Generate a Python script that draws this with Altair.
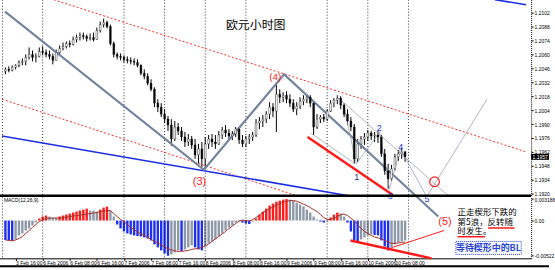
import altair as alt
import pandas as pd

# ---------------- data ----------------
bar_index = list(range(119))

opens = [1.2043,1.2045,1.2044,1.2047,1.2049,1.2052,1.2053,1.2057,1.2060,1.2057,
         1.2058,1.2063,1.2062,1.2060,1.2058,1.2054,1.2062,1.2066,1.2068,1.2071,
         1.2070,1.2075,1.2077,1.2079,1.2078,1.2076,1.2077,1.2075,1.2084,1.2090,
         1.2092,1.2088,1.2071,1.2060,1.2058,1.2057,1.2055,1.2054,1.2053,1.2052,
         1.2049,1.2041,1.2038,1.2031,1.2025,1.2011,1.2007,1.2000,1.1995,1.1989,
         1.1975,1.1987,1.1983,1.1977,1.1972,1.1975,1.1969,1.1959,1.1965,1.1955,
         1.1970,1.1975,1.1972,1.1970,1.1979,1.1984,1.1981,1.1978,1.1980,1.1985,
         1.1974,1.1970,1.1975,1.1977,1.1979,1.1991,1.1993,1.1995,1.2000,1.2007,
         1.2003,1.2020,1.2017,1.2019,1.2015,1.2011,1.2005,1.2008,1.2013,1.2015,
         1.2017,1.2011,1.1987,1.1995,1.1997,1.1995,1.2003,1.2011,1.2014,1.2016,
         1.2009,1.2000,1.1993,1.1987,1.1955,1.1970,1.1975,1.1977,1.1981,1.1978,
         1.1979,1.1977,1.1960,1.1943,1.1935,1.1945,1.1957,1.1960,1.1962]
highs = [1.2047,1.2048,1.2049,1.2050,1.2054,1.2056,1.2060,1.2067,1.2064,1.2061,
         1.2067,1.2068,1.2065,1.2064,1.2061,1.2065,1.2069,1.2072,1.2073,1.2074,
         1.2078,1.2080,1.2082,1.2082,1.2080,1.2081,1.2082,1.2087,1.2093,1.2096,
         1.2094,1.2090,1.2073,1.2062,1.2061,1.2059,1.2058,1.2057,1.2056,1.2055,
         1.2050,1.2045,1.2041,1.2035,1.2027,1.2015,1.2011,1.2005,1.1998,1.1995,
         1.1993,1.1991,1.1987,1.1982,1.1980,1.1978,1.1975,1.1970,1.1972,1.1977,
         1.1979,1.1980,1.1979,1.1983,1.1987,1.1989,1.1985,1.1983,1.1987,1.1987,
         1.1979,1.1978,1.1980,1.1982,1.1995,1.1997,1.1999,1.2003,1.2012,1.2011,
         1.2030,1.2025,1.2022,1.2023,1.2020,1.2015,1.2012,1.2017,1.2019,1.2020,
         1.2019,1.2013,1.2000,1.1999,1.2000,1.2005,1.2014,1.2016,1.2019,1.2018,
         1.2011,1.2005,1.1997,1.1990,1.1975,1.1978,1.1981,1.1984,1.1983,1.1982,
         1.1983,1.1979,1.1965,1.1950,1.1949,1.1960,1.1964,1.1966,1.1963]
lows = [1.2040,1.2042,1.2043,1.2045,1.2047,1.2049,1.2049,1.2055,1.2053,1.2052,
        1.2057,1.2059,1.2057,1.2055,1.2050,1.2054,1.2060,1.2064,1.2066,1.2067,
        1.2069,1.2072,1.2074,1.2075,1.2073,1.2074,1.2073,1.2075,1.2082,1.2087,
        1.2086,1.2069,1.2057,1.2055,1.2054,1.2052,1.2051,1.2050,1.2049,1.2047,
        1.2039,1.2035,1.2029,1.2023,1.2007,1.2002,1.1997,1.1991,1.1983,1.1968,
        1.1973,1.1979,1.1973,1.1967,1.1968,1.1965,1.1955,1.1950,1.1947,1.1945,
        1.1965,1.1967,1.1965,1.1969,1.1975,1.1977,1.1975,1.1974,1.1977,1.1970,
        1.1967,1.1967,1.1970,1.1973,1.1977,1.1985,1.1987,1.1991,1.1995,1.1997,
        1.1982,1.2011,1.2012,1.2011,1.2007,1.2002,1.1999,1.2005,1.2009,1.2011,
        1.2007,1.1979,1.1985,1.1991,1.1992,1.1993,1.2002,1.2007,1.2010,1.2005,
        1.1997,1.1989,1.1983,1.1950,1.1952,1.1965,1.1969,1.1973,1.1974,1.1972,
        1.1971,1.1957,1.1939,1.1925,1.1933,1.1943,1.1953,1.1955,1.1952]
closes = [1.2045,1.2044,1.2047,1.2049,1.2052,1.2053,1.2057,1.2060,1.2057,1.2058,
          1.2063,1.2062,1.2060,1.2058,1.2054,1.2062,1.2066,1.2068,1.2071,1.2070,
          1.2075,1.2077,1.2079,1.2078,1.2076,1.2077,1.2075,1.2084,1.2090,1.2092,
          1.2088,1.2071,1.2060,1.2058,1.2057,1.2055,1.2054,1.2053,1.2052,1.2049,
          1.2041,1.2038,1.2031,1.2025,1.2011,1.2007,1.2000,1.1995,1.1989,1.1975,
          1.1987,1.1983,1.1977,1.1972,1.1975,1.1969,1.1959,1.1965,1.1955,1.1970,
          1.1975,1.1972,1.1970,1.1979,1.1984,1.1981,1.1978,1.1980,1.1985,1.1974,
          1.1970,1.1975,1.1977,1.1979,1.1991,1.1993,1.1995,1.2000,1.2007,1.2003,
          1.2020,1.2017,1.2019,1.2015,1.2011,1.2005,1.2008,1.2013,1.2015,1.2017,
          1.2011,1.1987,1.1995,1.1997,1.1995,1.2003,1.2011,1.2014,1.2016,1.2009,
          1.2000,1.1993,1.1987,1.1955,1.1970,1.1975,1.1977,1.1981,1.1978,1.1979,
          1.1977,1.1960,1.1943,1.1935,1.1945,1.1957,1.1960,1.1962,1.1957]

osc_hist = [-0.00290,-0.00295,-0.00298,-0.00280,-0.00221,-0.00192,-0.00148,-0.00118,-0.00074,-0.00030,
            0.00030,0.00059,0.00074,0.00059,0.00044,0.00041,0.00059,0.00074,0.00089,0.00103,
            0.00118,0.00133,0.00148,0.00162,0.00177,0.00148,0.00147,0.00133,0.00162,0.00192,
            0.00207,0.00148,0.00059,-0.00059,-0.00118,-0.00162,-0.00192,-0.00207,-0.00221,-0.00229,
            -0.00236,-0.00251,-0.00266,-0.00295,-0.00354,-0.00398,-0.00443,-0.00487,-0.00522,-0.00502,
            -0.00472,-0.00443,-0.00450,-0.00428,-0.00398,-0.00369,-0.00398,-0.00428,-0.00443,-0.00384,
            -0.00339,-0.00310,-0.00280,-0.00236,-0.00192,-0.00148,-0.00103,-0.00074,-0.00030,-0.00015,
            -0.00030,-0.00044,-0.00052,-0.00015,0.00030,0.00089,0.00133,0.00177,0.00221,0.00251,
            0.00280,0.00295,0.00310,0.003186,0.00310,0.00295,0.00266,0.00236,0.00207,0.00162,
            0.00118,0.00059,0.00015,-0.00015,-0.00030,-0.00015,0.00044,0.00089,0.00118,0.00103,
            0.00059,-0.00030,-0.00162,-0.00295,-0.00325,-0.00280,-0.00251,-0.00221,-0.00207,-0.00214,
            -0.00221,-0.00295,-0.00384,-0.00443,-0.00413,-0.00354,-0.00325,-0.00310,-0.00295]
osc_signal = [-0.00288,-0.00295,-0.00302,-0.00288,-0.00266,-0.00236,-0.00192,-0.00148,-0.00103,-0.00059,
              -0.00015,0.00007,0.00030,0.00037,0.00037,0.00037,0.00037,0.00044,0.00052,0.00059,
              0.00066,0.00074,0.00081,0.00089,0.00096,0.00103,0.00111,0.00118,0.00133,0.00140,
              0.00148,0.00148,0.00103,0.00059,0.00015,-0.00015,-0.00059,-0.00103,-0.00133,-0.00170,
              -0.00199,-0.00221,-0.00251,-0.00280,-0.00310,-0.00332,-0.00361,-0.00391,-0.00420,-0.00435,
              -0.00450,-0.00457,-0.00457,-0.00450,-0.00443,-0.00428,-0.00420,-0.00413,-0.00398,-0.00376,
              -0.00347,-0.00310,-0.00273,-0.00236,-0.00199,-0.00162,-0.00118,-0.00081,-0.00044,-0.00007,
              0.00007,0.00000,-0.00007,0.00015,0.00044,0.00081,0.00118,0.00148,0.00177,0.00199,
              0.00229,0.00251,0.00273,0.00288,0.00295,0.00295,0.00288,0.00266,0.00243,0.00221,
              0.00192,0.00162,0.00133,0.00089,0.00044,0.00015,0.00015,0.00037,0.00059,0.00089,
              0.00096,0.00074,0.00037,-0.00007,-0.00059,-0.00118,-0.00162,-0.00192,-0.00221,-0.00243,
              -0.00258,-0.00273,-0.00295,-0.00317,-0.00339,-0.00339,-0.00332,-0.00325,-0.00317]

x_tick_bars = [3, 11, 19, 27, 35, 43, 51, 59, 67, 75, 83, 91, 99, 107, 115]
x_tick_labels = ["3 Feb 16:00", "6 Feb 2006", "6 Feb 08:00", "6 Feb 16:00", "7 Feb 2006",
                 "7 Feb 08:00", "7 Feb 16:00", "8 Feb 2006", "8 Feb 08:00", "8 Feb 16:00",
                 "9 Feb 2006", "9 Feb 08:00", "9 Feb 16:00", "10 Feb 2006", "10 Feb 08:00"]
price_ticks = [1.2102, 1.2088, 1.2074, 1.2060, 1.2046, 1.2032, 1.2018, 1.2004,
               1.1990, 1.1976, 1.1962, 1.1948, 1.1934, 1.1920]
osc_ticks = [0.003186, 0.0, -0.00522]
grid_bars = [-0.87, 11, 35, 47, 59, 71, 95, 107, 119]

# trend lines (bar, price)
wave_bar = [-0.1, 58.6, 82.3, 127.8]
wave_price = [1.2103, 1.1944, 1.2040, 1.1897]
chan_seg = ["up", "up", "low", "low"]
chan_bar = [14.3, 153.75, -1.01, 86.0]
chan_price = [1.2115, 1.1962, 1.2015, 1.1918]
blue_seg = ["a", "a", "b", "b"]
blue_bar = [-1.01, 101.3, 144.5, 153.75]
blue_price = [1.1978, 1.1918, 1.2115, 1.2110]
redline_bar = [89.2, 114.3]
redline_price = [1.1977, 1.1919]
thin_seg = ["w", "w", "z", "z", "z", "z", "z", "z", "z", "p", "p"]
thin_bar = [97.8, 130.7, 99.9, 103.6, 110.5, 113.4, 116.6, 124.4, 142.2, 90.1, 103.3]
thin_price = [1.2018, 1.1918, 1.2008, 1.1950, 1.1982, 1.1925, 1.1965, 1.1917, 1.2015, 1.1981, 1.1950]

lab_text = ["(4)", "(3)", "(5)", "1", "2", "3", "4", "5"]
lab_bar = [79.7, 57.3, 129.8, 103.7, 110.4, 113.6, 116.7, 124.5]
lab_price = [1.2037, 1.1932, 1.1892, 1.1937, 1.1986, 1.1918, 1.1967, 1.19143]
lab_color = ["#ff1a1a", "#ff1a1a", "#ff1a1a", "#1b2a8a", "#2a3bd6", "#2a3bd6", "#2a3bd6", "#2a3bd6"]
lab_size = [10, 11, 11, 9, 9, 9, 9, 9]

circle_bar = [126.7]
circle_price = [1.1932]

note_lines = ["正走楔形下跌的", "第5浪，反转随", "时发生。"]
note_bar = [133.5, 133.5, 133.5]
note_val = [0.00128, -0.00019, -0.00158]
uline_seg = ["a", "a", "b", "b"]
uline_bar = [142.5, 150.3, 133.5, 141.6]
uline_val = [-0.00111, -0.00111, -0.00240, -0.00240]
osc_red_seg = ["thick", "thick", "thin", "thin"]
osc_red_bar = [101.9, 125.8, 114.3, 129.5]
osc_red_val = [-0.00295, -0.00561, -0.00398, -0.00148]

# ---------------- scales / axes ----------------
W = 537
FONT = "Liberation Sans"
CJK = "Noto Sans CJK SC"
xs = alt.Scale(domain=[-1.01, 153.75], nice=False, zero=False)
ys = alt.Scale(domain=[1.1918, 1.2115], nice=False, zero=False)
os_ = alt.Scale(domain=[-0.005605, 0.00354], nice=False, zero=False)

price_axis = alt.Axis(orient="right", values=price_ticks, format=".4f", labelFontSize=5,
                      labelFont=FONT, labelColor="black", tickSize=2, tickColor="black",
                      labelPadding=1, domainColor="black", domainDash=[1, 1], grid=False,
                      title=None, minExtent=18, maxExtent=18, labelOverlap=False)
osc_axis = alt.Axis(orient="right", values=osc_ticks, labelFontSize=5, labelFont=FONT,
                    labelColor="black", tickSize=2, tickColor="black", labelPadding=1,
                    domainColor="black", domainDash=[1, 1], grid=False, title=None,
                    minExtent=18, maxExtent=18, labelOverlap=False,
                    labelExpr="datum.value > 0.001 ? '0.003186' : (datum.value < -0.001 ? '-0.00522' : '0.00')")
label_arr = "[" + ",".join(f"'{t}'" for t in x_tick_labels) + "]"
x_axis = alt.Axis(values=x_tick_bars, labelExpr=f"{label_arr}[(datum.value - 3) / 8]",
                  labelFontSize=5, labelFont=FONT, labelColor="black", labelAlign="left",
                  tickSize=2, tickColor="black", labelPadding=0, domainColor="black",
                  domainWidth=1, grid=False, title=None, minExtent=9, maxExtent=9,
                  labelOverlap=False, labelFlush=False)


def XT(field="bar"):
    return alt.X(f"{field}:Q", scale=xs, axis=None)


def XB(field="bar"):
    return alt.X(f"{field}:Q", scale=xs, axis=x_axis)


def PY(field="price"):
    return alt.Y(f"{field}:Q", scale=ys, axis=price_axis)


def OY(field="val"):
    return alt.Y(f"{field}:Q", scale=os_, axis=osc_axis)


# ---------------- price panel ----------------
price_df = pd.DataFrame({"bar": bar_index, "open": opens, "high": highs,
                         "low": lows, "close": closes})
grid_df = pd.DataFrame({"bar": grid_bars})
dummy = pd.DataFrame({"a": [0]})

grid_top = alt.Chart(grid_df).mark_rule(color="black", strokeDash=[1, 2], strokeWidth=1,
                                        opacity=0.8).encode(x=XT())
wicks = alt.Chart(price_df).mark_rule(color="black", strokeWidth=1).encode(
    x=XT(), y=PY("low"), y2="high:Q")
bodies = alt.Chart(price_df).mark_bar(width=1.8, stroke="black", strokeWidth=0.4).encode(
    x=XT(), y=PY("open"), y2="close:Q",
    fill=alt.condition("datum.close >= datum.open", alt.value("white"), alt.value("black")))

chan_df = pd.DataFrame({"seg": chan_seg, "bar": chan_bar, "price": chan_price})
chan = alt.Chart(chan_df).mark_line(color="#ff2a2a", strokeWidth=1, strokeDash=[2, 2]).encode(
    x=XT(), y=PY(), detail="seg:N")
blue_df = pd.DataFrame({"seg": blue_seg, "bar": blue_bar, "price": blue_price})
blue = alt.Chart(blue_df).mark_line(color="#1b2ee6", strokeWidth=1.6).encode(
    x=XT(), y=PY(), detail="seg:N")
thin_df = pd.DataFrame({"seg": thin_seg, "bar": thin_bar, "price": thin_price,
                        "o": list(range(len(thin_bar)))})
thin = alt.Chart(thin_df).mark_line(color="#9aa3b5", strokeWidth=0.8).encode(
    x=XT(), y=PY(), detail="seg:N", order="o:Q")
red_df = pd.DataFrame({"bar": redline_bar, "price": redline_price})
redthick = alt.Chart(red_df).mark_line(color="#ff1a1a", strokeWidth=2.5).encode(x=XT(), y=PY())
wave_df = pd.DataFrame({"bar": wave_bar, "price": wave_price, "o": list(range(len(wave_bar)))})
wave = alt.Chart(wave_df).mark_line(color="#75849e", strokeWidth=2.2).encode(
    x=XT(), y=PY(), order="o:Q")

lab_df = pd.DataFrame({"t": lab_text, "bar": lab_bar, "price": lab_price,
                       "c": lab_color, "s": lab_size})
labels = alt.Chart(lab_df).mark_text(font=FONT, align="center", baseline="middle").encode(
    x=XT(), y=PY(), text="t:N", color=alt.Color("c:N", scale=None),
    size=alt.Size("s:Q", scale=None))
circ_df = pd.DataFrame({"bar": circle_bar, "price": circle_price})
circ = alt.Chart(circ_df).mark_point(shape="circle", size=95, filled=False, color="#ff1a1a",
                                     strokeWidth=1.2, opacity=1).encode(x=XT(), y=PY())

title_df = pd.DataFrame({"t": ["欧元小时图"], "bar": [73.9], "price": [1.2090]})
title = alt.Chart(title_df).mark_text(font=CJK, fontSize=12, color="black").encode(
    x=XT(), y=PY(), text="t:N")

last_df = pd.DataFrame({"price": [closes[-1]], "t": [f"{closes[-1]:.4f}"]})
last_box = alt.Chart(last_df).mark_point(
    shape="M-1,-0.33L1,-0.33L1,0.33L-1,0.33Z", size=324, filled=True, color="black",
    opacity=1).encode(x=alt.value(546), y=PY())
last_txt = alt.Chart(last_df).mark_text(font=FONT, fontSize=5, color="white").encode(
    x=alt.value(546), y=PY(), text="t:N")

sep = alt.Chart(dummy).mark_rule(color="black", strokeWidth=2.5).encode(
    x=alt.value(0), x2=alt.value(W), y=alt.value(197))

top = alt.layer(wicks, grid_top, chan, blue, wave, thin, redthick, bodies, circ, labels,
                title, sep, last_box, last_txt).properties(width=W, height=197)

# ---------------- oscillator panel ----------------
osc_df = pd.DataFrame({"bar": bar_index, "val": osc_hist, "sig": osc_signal})
prev = osc_df["val"].shift(1)
cols = []
for v, p in zip(osc_df["val"], prev):
    if pd.isna(p):
        cols.append("#1f2ff0" if v < 0 else "#ff1a1a")
    elif v > 0 and v > p:
        cols.append("#ff1a1a")
    elif v < 0 and v < p:
        cols.append("#1f2ff0")
    else:
        cols.append("#8e99a8")
osc_df["c"] = cols

hist = alt.Chart(osc_df).mark_bar(width=2.4).encode(
    x=XB(), y=OY("val"), y2=alt.datum(0), color=alt.Color("c:N", scale=None))
grid_bot = alt.Chart(grid_df).mark_rule(color="black", strokeDash=[1, 2], strokeWidth=1,
                                        opacity=0.8).encode(x=XB())
sig = alt.Chart(osc_df).mark_line(color="#a3322c", strokeWidth=1).encode(x=XB(), y=OY("sig"))

ored_df = pd.DataFrame({"seg": osc_red_seg, "bar": osc_red_bar, "val": osc_red_val,
                        "w": [2.5, 2.5, 1, 1]})
ored = alt.Chart(ored_df).mark_line(color="#ff1a1a").encode(
    x=XB(), y=OY(), detail="seg:N", strokeWidth=alt.StrokeWidth("w:Q", scale=None))

ul_df = pd.DataFrame({"seg": uline_seg, "bar": uline_bar, "val": uline_val})
ul = alt.Chart(ul_df).mark_line(color="#ff1a1a", strokeWidth=1.5).encode(
    x=XB(), y=OY(), detail="seg:N")

note_df = pd.DataFrame({"t": note_lines, "bar": note_bar, "val": note_val})
notes = alt.Chart(note_df).mark_text(font=CJK, fontSize=8.5, align="left", baseline="middle",
                                     color="black").encode(x=XB(), y=OY(), text="t:N")

box_df = pd.DataFrame({"bar": [133.0], "bar2": [152.3], "val": [-0.00310], "val2": [-0.00502]})
box = alt.Chart(box_df).mark_rect(fill="white", stroke="#1f3fd8", strokeDash=[1, 1],
                                  strokeWidth=1).encode(x=XB(), x2="bar2:Q", y=OY(), y2="val2:Q")
bl_df = pd.DataFrame({"t": ["等待楔形中的BL"], "bar": [142.6], "val": [-0.00406]})
bl = alt.Chart(bl_df).mark_text(font=CJK, fontSize=9, fontWeight="bold", color="#1f3fd8",
                                align="center", baseline="middle").encode(x=XB(), y=OY(), text="t:N")

name_df = pd.DataFrame({"t": ["MACD(12,26,9)"], "bar": [-0.45], "val": [0.0031]})
name = alt.Chart(name_df).mark_text(font=FONT, fontSize=5, align="left", baseline="middle",
                                    color="black").encode(x=XB(), y=OY(), text="t:N")

border = alt.Chart(dummy).mark_rule(color="black", strokeWidth=2).encode(
    x=alt.value(0), x2=alt.value(555), y=alt.value(70))

bottom = alt.layer(hist, grid_bot, sig, ored, ul, notes, box, bl, name, border).properties(
    width=W, height=62)

chart = alt.vconcat(top, bottom, spacing=1, bounds="flush",
                    padding={"left": -5, "top": -5, "right": 0, "bottom": 0},
                    background="white").configure_view(stroke=None)

chart.save("out.html", embed_options={"renderer": "svg", "actions": False})
